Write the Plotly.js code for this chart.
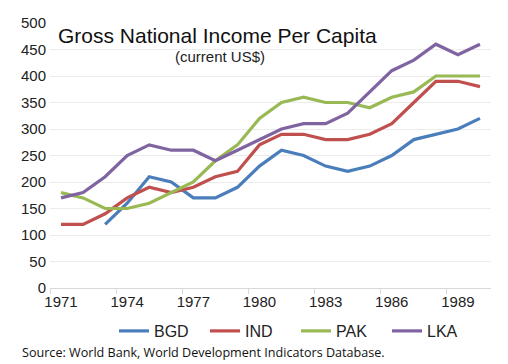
<!DOCTYPE html>
<html>
<head>
<meta charset="utf-8">
<script src="https://cdn.plot.ly/plotly-3.0.1.min.js"></script>
<style>
html,body{margin:0;padding:0;background:#fff;}
#chart{width:508px;height:364px;box-sizing:border-box;border-right:2px solid #e4e4e4;border-bottom:2px solid #e4e4e4;}
</style>
</head>
<body>
<div id="chart"></div>
<script>
const years = [1971,1972,1973,1974,1975,1976,1977,1978,1979,1980,1981,1982,1983,1984,1985,1986,1987,1988,1989,1990];
const BGD = [null,null,120,160,210,200,170,170,190,230,260,250,230,220,230,250,280,290,300,320];
const IND = [120,120,140,170,190,180,190,210,220,270,290,290,280,280,290,310,350,390,390,380];
const PAK = [180,170,150,150,160,180,200,240,270,320,350,360,350,350,340,360,370,400,400,400];
const LKA = [170,180,210,250,270,260,260,240,260,280,300,310,310,330,370,410,430,460,440,460];
const tickYears = [1971,1974,1977,1980,1983,1986,1989];
const tickMarks = [1970.5,1973.5,1976.5,1979.5,1982.5,1985.5,1988.5];
const seriesNames = ['BGD','IND','PAK','LKA'];
const seriesData = [BGD, IND, PAK, LKA];
const colors = ['#4A7EBB','#C0504D','#98B954','#8064A2'];

const traces = seriesNames.map((n,i)=>({
  x: years, y: seriesData[i], name: n, type:'scatter', mode:'lines',
  line:{color:colors[i], width:3.2}, connectgaps:false
}));
traces.push({x:[1970.5,1990.5], y:[0,0], xaxis:'x2', mode:'lines', line:{width:0}, showlegend:false, hoverinfo:'skip'});

const layout = {
  width:508, height:364,
  margin:{l:50, r:17, t:23, b:76},
  paper_bgcolor:'#fff', plot_bgcolor:'#fff',
  font:{family:'Liberation Sans, Arial, sans-serif', color:'#222', size:15},
  title:{text:'Gross National Income Per Capita', x:58/508, xanchor:'left', y:1-36/364, yanchor:'middle',
         font:{size:21, color:'#111', family:'Liberation Sans, Arial, sans-serif'}},
  xaxis:{range:[1970.5,1990.5], tickvals:tickYears, ticktext:tickYears.map(String), ticks:'',
         showgrid:false, zeroline:false, showline:true, linecolor:'#d9d9d9', linewidth:1,
         tickfont:{size:15, color:'#222'}},
  xaxis2:{range:[1970.5,1990.5], overlaying:'x', anchor:'y', side:'bottom', tickvals:tickMarks,
          ticks:'outside', ticklen:5, tickcolor:'#d9d9d9', showticklabels:false, showgrid:false, zeroline:false},
  yaxis:{range:[0,500], dtick:50, tick0:0, showgrid:true, gridcolor:'#ececec', gridwidth:1, zeroline:false,
         showline:false, ticks:'', tickfont:{size:15, color:'#222'}, ticklabelstandoff:3},
  legend:{orientation:'h', x:(114-50)/441, xanchor:'left', y:(288-331)/265, yanchor:'middle',
          font:{size:16, color:'#222'}, itemwidth:30, entrywidth:46, entrywidthmode:'pixels',
          tracegroupgap:0, bgcolor:'rgba(0,0,0,0)'},
  showlegend:true,
  annotations:[
    {text:'(current US$)', xref:'paper', yref:'paper', x:(220-50)/441, y:(288-57)/265, xanchor:'center', yanchor:'middle',
     showarrow:false, font:{size:15, color:'#222'}},
    {text:'Source: World Bank, World Development Indicators Database.', xref:'paper', yref:'paper',
     x:(20-50)/441, y:(288-352)/265, xanchor:'left', yanchor:'middle', showarrow:false,
     font:{size:12.6, color:'#111', family:'Open Sans, sans-serif'}}
  ]
};
Plotly.newPlot('chart', traces, layout, {displayModeBar:false, staticPlot:true});
</script>
</body>
</html>
